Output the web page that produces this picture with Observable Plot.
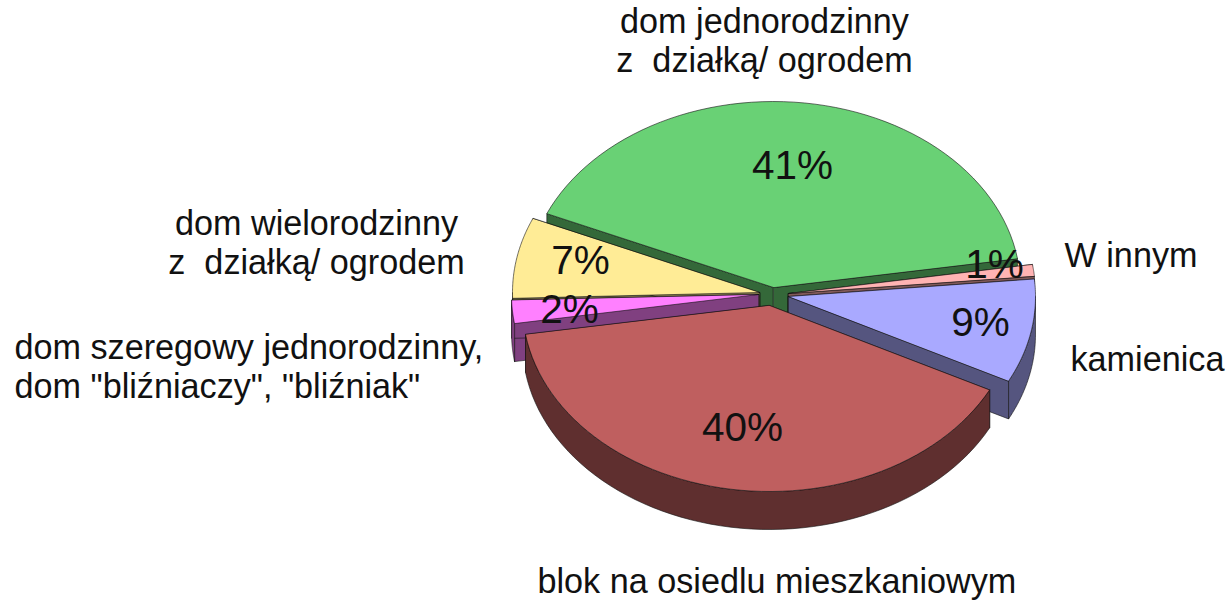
<!DOCTYPE html>
<html lang="pl">
<head>
<meta charset="utf-8">
<script src="https://cdn.jsdelivr.net/npm/d3@7"></script>
<script src="https://cdn.jsdelivr.net/npm/@observablehq/plot@0.6"></script>
<style>html,body{margin:0;padding:0;background:#fff}svg{display:block}</style>
</head>
<body>
<div id="chart"></div>
<script>
// --- data ---
const categories = [
  "dom jednorodzinny\nz  działką/ ogrodem",
  "W innym",
  "kamienica",
  "blok na osiedlu mieszkaniowym",
  "dom szeregowy jednorodzinny,\ndom \"bliźniaczy\", \"bliźniak\"",
  "dom wielorodzinny\nz  działką/ ogrodem"
];
const shares = [41, 1, 9, 40, 2, 7];

// --- styles and layout ---
const topColors  = ["#69D175", "#FFB3B3", "#A9A9FF", "#BF5F5F", "#FF80FF", "#FFEC96"];
const wallColors = ["#346839", "#805959", "#55557F", "#5F2F2F", "#804080", "#807649"];
const drawOrder = [0, 1, 5, 4, 2, 3];
const W = 1228, H = 600;
const cx = 773, cy = 287, rx = 247, ry = 186, depth = 38 / ry;
const U = px => (px - cx) / rx, V = py => (py - cy) / ry;
const explode = [[773,287],[788,293],[788,296],[769,305],[758,294],[759,292]].map(([a,b]) => [U(a), V(b)]);
const labelPos = [[764,24,"middle"],[1064,258,"start"],[1070,362,"start"],[537,584,"start"],[14,350,"start"],[316,226,"middle"]];
const pctPos = [[792,166],[994,265],[980,323],[742,428],[569,310],[580,261]];

const deg = Math.PI / 180;
const start = 293.4 * deg;
const arcs = d3.pie().sort(null).value(d => d)
  .startAngle(start)
  .endAngle(start + 360 * deg)(shares);

const rim = (a, b) => d3.range(0, 61).map(i => {
  const t = a + (b - a) * i / 60;
  return [Math.sin(t), -Math.cos(t)];
});

const polygon = (points, fill) => Plot.line(points, {
  x: d => d[0], y: d => d[1],
  curve: "linear-closed",
  fill, stroke: "#111", strokeWidth: 0.7, strokeOpacity: 0.85
});

const marks = [];
for (const i of drawOrder) {
  const {startAngle: a, endAngle: b} = arcs[i];
  const [ox, oy] = explode[i];
  const place = ([x, y]) => [ox + x, oy + y];
  const drop = ([x, y]) => [x, y + depth];
  const edge = rim(a, b).map(place);
  const first = edge[0], last = edge[edge.length - 1], apex = [ox, oy];
  marks.push(polygon([apex, first, drop(first), drop(apex)], wallColors[i]));
  marks.push(polygon([apex, last, drop(last), drop(apex)], wallColors[i]));
  // outer wall: only the front half of the rim faces the viewer
  const fa = Math.max(a, 450 * deg), fb = Math.min(b, 630 * deg);
  if (fb > fa) {
    const front = rim(fa, fb).map(place);
    marks.push(polygon([...front, ...front.map(drop).reverse()], wallColors[i]));
  }
  marks.push(polygon([apex, ...edge], topColors[i]));
}

for (const i of d3.range(categories.length)) {
  marks.push(Plot.text([categories[i]], {
    x: () => U(labelPos[i][0]), y: () => V(labelPos[i][1]),
    text: d => d, textAnchor: labelPos[i][2], lineAnchor: "top",
    dy: -20, fontSize: 34.2, lineHeight: 1.16, fill: "#111"
  }));
  marks.push(Plot.text([shares[i] + "%"], {
    x: () => U(pctPos[i][0]), y: () => V(pctPos[i][1]),
    text: d => d, textAnchor: "middle", lineAnchor: "middle",
    fontSize: 40.5, fill: "#111"
  }));
}

const chart = Plot.plot({
  width: W, height: H,
  margin: 0,
  style: {fontFamily: "'Liberation Sans', Arial, sans-serif", whiteSpace: "pre", background: "#fff"},
  x: {axis: null, domain: [U(0), U(W)], range: [0, W]},
  y: {axis: null, domain: [V(0), V(H)], range: [0, H]},
  marks
});
document.getElementById("chart").append(chart);
</script>
</body>
</html>
